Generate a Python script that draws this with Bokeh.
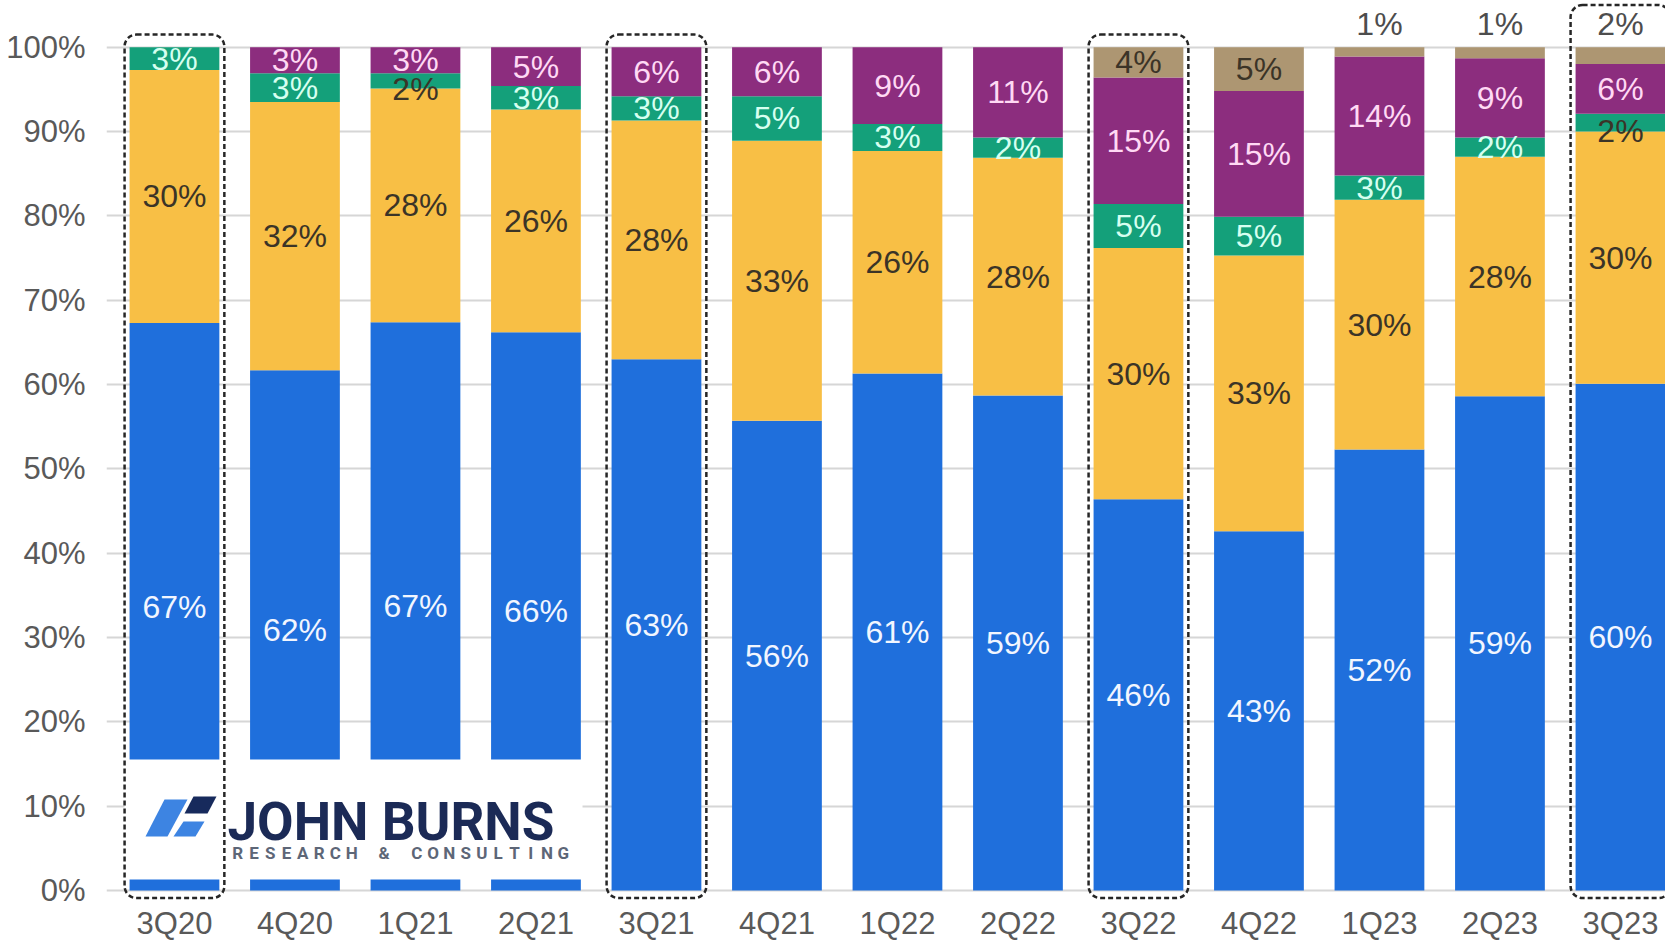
from bokeh.plotting import figure
from bokeh.models import ColumnDataSource, Range1d, FixedTicker, PrintfTickFormatter, BoxAnnotation
from bokeh.core.properties import value
from bokeh.embed import file_html
from bokeh.resources import INLINE

# ---------------- data ----------------
quarters = ["3Q20", "4Q20", "1Q21", "2Q21", "3Q21", "4Q21", "1Q22",
            "2Q22", "3Q22", "4Q22", "1Q23", "2Q23", "3Q23"]
blue_share   = [67.3, 61.7, 67.4, 66.2, 63.0, 55.7, 61.3, 58.7, 46.4, 42.6, 52.3, 58.6, 60.1]
yellow_share = [30.0, 31.8, 27.7, 26.4, 28.3, 33.2, 26.4, 28.2, 29.8, 32.7, 29.6, 28.4, 29.9]
green_share  = [2.7, 3.4, 1.8, 2.8, 2.9, 5.3, 3.2, 2.4, 5.2, 4.6, 2.9, 2.3, 2.1]
purple_share = [0.0, 3.1, 3.1, 4.6, 5.8, 5.8, 9.1, 10.7, 15.0, 14.9, 14.1, 9.4, 5.9]
tan_share    = [0.0, 0.0, 0.0, 0.0, 0.0, 0.0, 0.0, 0.0, 3.6, 5.2, 1.1, 1.3, 2.0]
y_ticks = [0, 10, 20, 30, 40, 50, 60, 70, 80, 90, 100]
highlighted = ["3Q20", "3Q21", "3Q22", "3Q23"]
logo_name = "JOHN BURNS"
logo_tagline = "RESEARCH & CONSULTING"

# ---------------- styles ----------------
series_names = ["blue", "yellow", "green", "purple", "tan"]
series_vals = [blue_share, yellow_share, green_share, purple_share, tan_share]
fill_colors = ["#1f6fdc", "#f8bf45", "#14a07a", "#8c2d7e", "#ad9672"]
label_colors = ["#f2f6ff", "#3b3427", "#d6fff0", "#ffd9f4", "#3b3427"]
green_dark_labels = ["1Q21", "3Q23"]
FONT = "Liberation Sans"
BAR_W = 0.745

W, H = 1665, 943
FRAME_LEFT, FRAME_W, FRAME_H = 106, 1559, 900
PPX = 120.5           # pixels per category
PPY = 8.433           # pixels per percentage point
X_START = -0.564
Y_END = 105.54
X_END = X_START + FRAME_W / PPX
Y_START = Y_END - FRAME_H / PPY


def dx(px):
    return X_START + (px - FRAME_LEFT) / PPX


def dy(py):
    return Y_END - py / PPY


p = figure(width=W, height=H, frame_width=FRAME_W, frame_height=FRAME_H,
           output_backend="svg", toolbar_location=None,
           x_range=Range1d(X_START, X_END), y_range=Range1d(Y_START, Y_END),
           min_border_left=FRAME_LEFT, min_border_right=0, min_border_top=0,
           min_border_bottom=H - FRAME_H)
p.outline_line_color = None
p.background_fill_color = "white"
p.border_fill_color = "white"

# grid
p.xgrid.grid_line_color = None
p.ygrid.ticker = FixedTicker(ticks=y_ticks)
p.ygrid.grid_line_color = "#d6d6d6"
p.ygrid.grid_line_width = 2

# axes
p.yaxis.ticker = FixedTicker(ticks=y_ticks)
p.yaxis.formatter = PrintfTickFormatter(format="%d%%")
p.yaxis.axis_line_color = None
p.yaxis.major_tick_line_color = None
p.yaxis.minor_tick_line_color = None
p.yaxis.major_tick_out = 0
p.yaxis.major_tick_in = 0
p.yaxis.major_label_standoff = 21
p.yaxis.major_label_text_font = FONT
p.yaxis.major_label_text_font_size = "31px"
p.yaxis.major_label_text_color = "#595959"

xs = list(range(len(quarters)))
p.xaxis.ticker = FixedTicker(ticks=xs)
p.xaxis.major_label_overrides = {i: q for i, q in enumerate(quarters)}
p.xaxis.axis_line_color = None
p.xaxis.major_tick_line_color = None
p.xaxis.minor_tick_line_color = None
p.xaxis.major_tick_out = 0
p.xaxis.major_tick_in = 0
p.xaxis.major_label_standoff = 5
p.xaxis.major_label_text_font = FONT
p.xaxis.major_label_text_font_size = "31px"
p.xaxis.major_label_text_color = "#595959"

# stacked bars
data = {"x": xs}
for name, vals in zip(series_names, series_vals):
    data[name] = vals
src = ColumnDataSource(data)
p.vbar_stack(series_names, x="x", width=BAR_W, color=fill_colors,
             line_color=None, source=src)

# labels
lx, ly, lt, lc = [], [], [], []
for i, q in enumerate(quarters):
    base = 0.0
    for k, vals in enumerate(series_vals):
        v = vals[i]
        if v > 0:
            txt = f"{round(v)}%"
            if k == 4 and v < 3:
                lx.append(i); ly.append(100 + 2.8); lt.append(txt); lc.append("#4d4d4d")
            else:
                col = label_colors[k]
                yy = base + v / 2
                if k == 2 and q in green_dark_labels:
                    col = "#3b3427"
                    yy -= 1.0
                lx.append(i); ly.append(yy); lt.append(txt); lc.append(col)
        base += v
lab_src = ColumnDataSource(dict(x=lx, y=ly, text=lt, color=lc))
p.text(x="x", y="y", text="text", text_color="color", source=lab_src,
       text_align="center", text_baseline="middle",
       text_font=value(FONT), text_font_size="32px")

# logo (white panel + mark + wordmark)
p.quad(left=[dx(124)], right=[dx(582)], top=[dy(759)], bottom=[dy(879)],
       fill_color="white", line_color=None)
shapes_px = [
    ([164, 187, 167, 145], [799, 799, 836, 836], "#3d84e2"),
    ([193, 216, 207, 184], [796, 796, 813, 813], "#172a5c"),
    ([183, 204, 195, 173], [821, 821, 836, 836], "#3d84e2"),
]
p.patches(xs=[[dx(v) for v in s[0]] for s in shapes_px],
          ys=[[dy(v) for v in s[1]] for s in shapes_px],
          fill_color=[s[2] for s in shapes_px], line_color=None)
p.text(x=[dx(227)], y=[dy(821)], text=[logo_name], text_color="#1b2a56",
       text_font=value("Roboto"), text_font_style="bold", text_font_size="53px",
       text_align="left", text_baseline="alphabetic")
slot = 342 / len(logo_tagline)
tag_x = [dx(229 + slot * (k + 0.5)) for k in range(len(logo_tagline))]
p.text(x=tag_x, y=[dy(852)] * len(logo_tagline), text=list(logo_tagline),
       text_color="#5d6677", text_font=value("Roboto"), text_font_style="bold",
       text_font_size="17px", text_align="center", text_baseline="alphabetic")

# dashed highlight boxes around the third quarters
pad = 5 / PPX
for q in highlighted:
    i = quarters.index(q)
    top = 105.0 if 0 < tan_share[i] < 3 else 101.5
    p.add_layout(BoxAnnotation(left=i - BAR_W / 2 - pad, right=i + BAR_W / 2 + pad,
                               bottom=-0.9, top=top, fill_alpha=0,
                               line_color="#262626", line_alpha=1.0, line_width=2.5,
                               line_dash="5 3", border_radius=12))

open("out.html", "w").write(file_html(p, INLINE))
